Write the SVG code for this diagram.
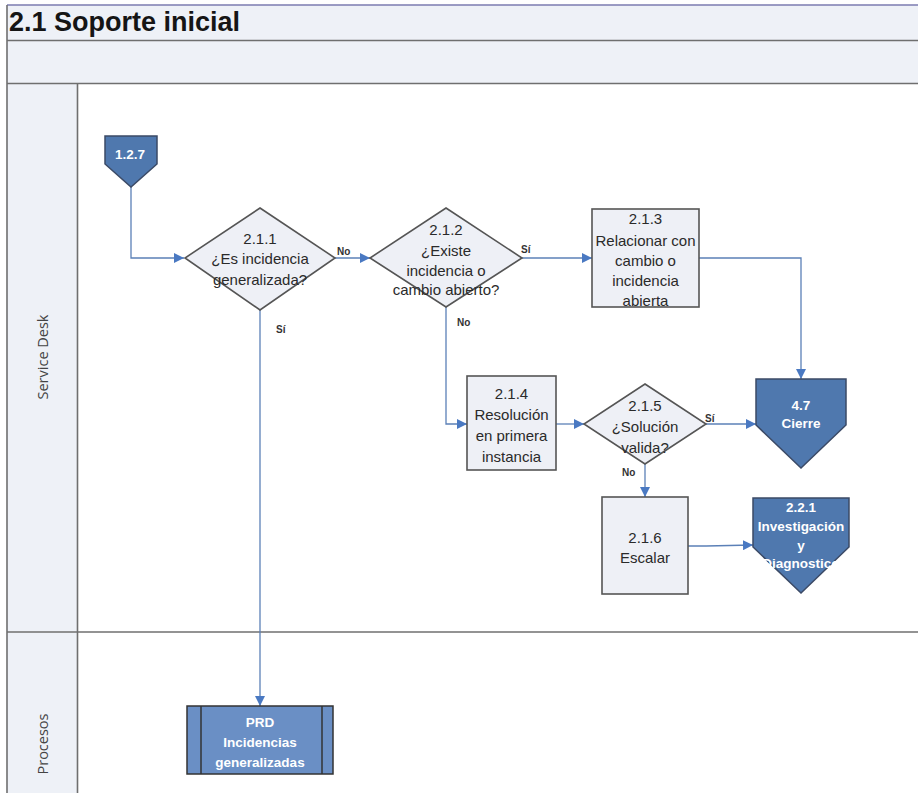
<svg xmlns="http://www.w3.org/2000/svg" width="918" height="793" viewBox="0 0 918 793">
  <defs>
    <marker id="arr" viewBox="0 0 10 10" refX="10" refY="5" markerWidth="10" markerHeight="10" markerUnits="userSpaceOnUse" orient="auto">
      <path d="M0,0 L10,5 L0,10 z" fill="#4a79c2"/>
    </marker>
    <style>
      .band { fill: #eef1f7; }
      .rule { stroke: #6f6f6f; stroke-width: 1.6; fill: none; }
      .step { fill: #eef0f6; stroke: #555; stroke-width: 1.6; }
      .ref  { fill: #4f78ae; stroke: #3b4a66; stroke-width: 1.5; }
      .sub  { fill: #6a8fc5; stroke: #333; stroke-width: 1.5; }
      .t    { font-family: "Liberation Sans", Arial, sans-serif; font-size: 15px; fill: #2a2a2a; text-anchor: middle; }
      .tw   { font-family: "Liberation Sans", Arial, sans-serif; font-size: 13.5px; font-weight: bold; fill: #ffffff; text-anchor: middle; }
      .lbl  { font-family: "Liberation Sans", Arial, sans-serif; font-size: 10px; font-weight: bold; fill: #333; }
      .lane { font-family: "Open Sans", "Liberation Sans", sans-serif; font-size: 14.5px; fill: #444; text-anchor: middle; }
      .conn { stroke: #5b80b7; stroke-width: 1.3; fill: none; marker-end: url(#arr); }
    </style>
  </defs>

  <rect width="918" height="793" fill="#ffffff"/>

  <!-- pool frame -->
  <g id="pool">
    <rect class="band" x="7" y="5" width="911" height="79"/>
    <rect class="band" x="7" y="84" width="70" height="709"/>
    <line x1="7" y1="5" x2="918" y2="5" stroke="#7b7bb0" stroke-width="1.5"/>
    <line x1="7" y1="5" x2="7" y2="793" class="rule"/>
    <line x1="7" y1="40.5" x2="918" y2="40.5" class="rule" stroke-width="2"/>
    <line x1="7" y1="83.5" x2="918" y2="83.5" class="rule" stroke-width="2"/>
    <line x1="77.5" y1="84" x2="77.5" y2="793" class="rule"/>
    <line x1="7" y1="632" x2="918" y2="632" class="rule" stroke-width="2"/>
    <text x="9" y="31" font-family="Liberation Sans, Arial, sans-serif" font-size="27" font-weight="bold" fill="#151515">2.1 Soporte inicial</text>
    <text class="lane" transform="translate(48,357) rotate(-90)">Service Desk</text>
    <text class="lane" transform="translate(48,744) rotate(-90)">Procesos</text>
  </g>

  <!-- connectors -->
  <g id="connectors">
    <path class="conn" d="M131,187 V258 H184"/>
    <path class="conn" d="M335,258 H370"/>
    <path class="conn" d="M522,258 H592"/>
    <path class="conn" d="M699,258 H801 V379"/>
    <path class="conn" d="M446,307 V424 H467"/>
    <path class="conn" d="M556,424 H584"/>
    <path class="conn" d="M706,424 H756"/>
    <path class="conn" d="M645,464 V497"/>
    <path class="conn" d="M688,546 H706 L753,545"/>
    <path class="conn" d="M260,310 V706"/>
    <text class="lbl" x="337" y="255">No</text>
    <text class="lbl" x="521" y="253">Sí</text>
    <text class="lbl" x="457" y="326">No</text>
    <text class="lbl" x="705" y="422">Sí</text>
    <text class="lbl" x="622" y="476">No</text>
    <text class="lbl" x="276" y="333">Sí</text>
  </g>

  <g id="n127">
    <path class="ref" d="M105,136 H157 V164 L131,187 L105,164 Z"/>
    <text class="tw" x="130" y="159" font-size="10.5">1.2.7</text>
  </g>

  <g id="n211">
    <path class="step" d="M260,208 L335,258 L260,310 L185,258 Z"/>
    <text class="t" x="260" y="244">2.1.1</text>
    <text class="t" x="260" y="264">¿Es incidencia</text>
    <text class="t" x="260" y="285">generalizada?</text>
  </g>

  <g id="n212">
    <path class="step" d="M446,208 L522,258 L446,307 L370,258 Z"/>
    <text class="t" x="446" y="235">2.1.2</text>
    <text class="t" x="446" y="256">¿Existe</text>
    <text class="t" x="446" y="276">incidencia o</text>
    <text class="t" x="446" y="295">cambio abierto?</text>
  </g>

  <g id="n213">
    <rect class="step" x="592" y="209" width="107" height="98"/>
    <text class="t" x="645.5" y="224">2.1.3</text>
    <text class="t" x="645.5" y="246">Relacionar con</text>
    <text class="t" x="645.5" y="266">cambio o</text>
    <text class="t" x="645.5" y="286">incidencia</text>
    <text class="t" x="645.5" y="306">abierta</text>
  </g>

  <g id="n214">
    <rect class="step" x="467" y="376" width="89" height="94"/>
    <text class="t" x="511.5" y="399">2.1.4</text>
    <text class="t" x="511.5" y="420">Resolución</text>
    <text class="t" x="511.5" y="441">en primera</text>
    <text class="t" x="511.5" y="462">instancia</text>
  </g>

  <g id="n215">
    <path class="step" d="M645,384 L706,424 L645,464 L584,424 Z"/>
    <text class="t" x="645" y="411">2.1.5</text>
    <text class="t" x="645" y="432">¿Solución</text>
    <text class="t" x="645" y="453">valida?</text>
  </g>

  <g id="n216">
    <rect class="step" x="602" y="497" width="86" height="97"/>
    <text class="t" x="645" y="543">2.1.6</text>
    <text class="t" x="645" y="563">Escalar</text>
  </g>

  <g id="n47">
    <path class="ref" d="M756,379 H846 V425 L801,468 L756,425 Z"/>
    <text class="tw" x="801" y="410">4.7</text>
    <text class="tw" x="801" y="428">Cierre</text>
  </g>

  <g id="n221">
    <path class="ref" d="M753,498 H849 V547 L801,593 L753,547 Z"/>
    <text class="tw" x="801" y="512">2.2.1</text>
    <text class="tw" x="801" y="531">Investigación</text>
    <text class="tw" x="801" y="550">y</text>
    <text class="tw" x="801" y="568">Diagnostico</text>
  </g>

  <g id="prd">
    <rect class="sub" x="187" y="706" width="146" height="68"/>
    <line x1="201" y1="706" x2="201" y2="774" stroke="#333" stroke-width="1.5"/>
    <line x1="322" y1="706" x2="322" y2="774" stroke="#333" stroke-width="1.5"/>
    <text class="tw" x="260" y="727" font-size="14">PRD</text>
    <text class="tw" x="260" y="747" font-size="14">Incidencias</text>
    <text class="tw" x="260" y="767" font-size="14">generalizadas</text>
  </g>
</svg>
